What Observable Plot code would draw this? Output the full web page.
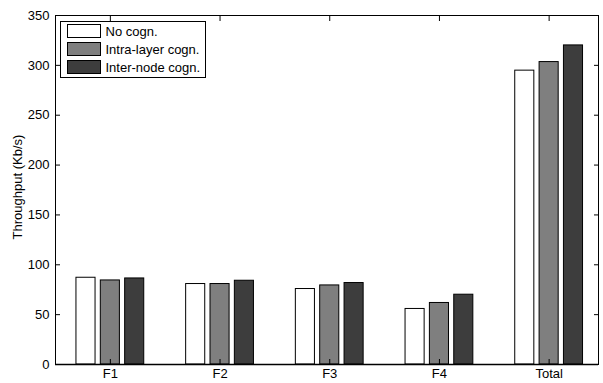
<!DOCTYPE html>
<html>
<head>
<meta charset="utf-8">
<script src="https://cdn.jsdelivr.net/npm/d3@7"></script>
<script src="https://cdn.jsdelivr.net/npm/@observablehq/plot@0.6"></script>
<style>
  html, body { margin: 0; padding: 0; background: #fff; }
</style>
</head>
<body>
<div id="chart"></div>
<script>
const categories = ["F1", "F2", "F3", "F4", "Total"];
const series = ["No cogn.", "Intra-layer cogn.", "Inter-node cogn."];
const noCogn = [87, 80.7, 75.7, 55.7, 294.7];
const intraLayer = [84.3, 80.7, 79.3, 61.7, 303.3];
const interNode = [86.3, 84, 81.7, 70, 320];
const yTicks = [0, 50, 100, 150, 200, 250, 300, 350];
const colors = ["#ffffff", "#7f7f7f", "#3d3d3d"];

const values = [noCogn, intraLayer, interNode];
const data = [];
categories.forEach((c, i) => {
  series.forEach((s, j) => {
    data.push({category: c, group: i + 1, si: j, series: s, value: values[j][i]});
  });
});

const step = 0.222;   // series offset within a group (x units)
const half = 0.087;   // half bar width (x units)
const groups = categories.map((c, i) => i + 1);
const FONT = "'Liberation Sans', Arial, sans-serif";

const plot = Plot.plot({
  width: 603,
  height: 383,
  marginLeft: 55,
  marginRight: 5,
  marginTop: 15,
  marginBottom: 19,
  style: {fontFamily: FONT, fontSize: "13px", color: "#000", background: "#fff"},
  x: {domain: [0.5, 5.45]},
  y: {domain: [0, 350]},
  color: {domain: series, range: colors},
  marks: [
    Plot.rect(data, {
      x1: d => d.group + (d.si - 1) * step - half,
      x2: d => d.group + (d.si - 1) * step + half,
      y1: 0,
      y2: "value",
      fill: "series",
      stroke: "#000",
      strokeWidth: 1
    }),
    Plot.axisY(yTicks, {anchor: "left", tickSize: -5, tickPadding: 11, label: null, fontSize: 13}),
    Plot.axisY(yTicks, {anchor: "right", tickSize: -5, tickFormat: () => "", label: null}),
    Plot.axisX(groups, {anchor: "bottom", tickSize: -5, tickPadding: 9, tickFormat: d => categories[d - 1], label: null, fontSize: 13}),
    Plot.axisX(groups, {anchor: "top", tickSize: -5, tickFormat: () => "", label: null}),
    Plot.frame({stroke: "#000", strokeWidth: 1}),
    Plot.ruleY([0], {stroke: "#000", strokeWidth: 1.6}),
    Plot.text(["Throughput (Kb/s)"], {frameAnchor: "left", textAnchor: "middle", dx: -38, dy: -3, rotate: -90, fontSize: 13, fill: "#000"})
  ]
});

// Legend box inside the plot area (top-left)
const svg = d3.select(plot);
const lg = svg.append("g").attr("transform", "translate(60.5,21.5)")
  .attr("text-anchor", "start").attr("font-family", FONT);
lg.append("rect").attr("width", 145).attr("height", 56).attr("fill", "#fff").attr("stroke", "#000").attr("stroke-width", 1);
series.forEach((s, j) => {
  const row = lg.append("g").attr("transform", `translate(7,${3 + j * 18})`);
  row.append("rect").attr("width", 33).attr("height", 13).attr("fill", colors[j]).attr("stroke", "#000").attr("stroke-width", 1);
  row.append("text").attr("x", 38).attr("y", 7).attr("dy", "0.35em")
    .attr("text-anchor", "start").attr("font-size", 13).attr("fill", "#000").text(s);
});

document.getElementById("chart").appendChild(plot);
</script>
</body>
</html>
